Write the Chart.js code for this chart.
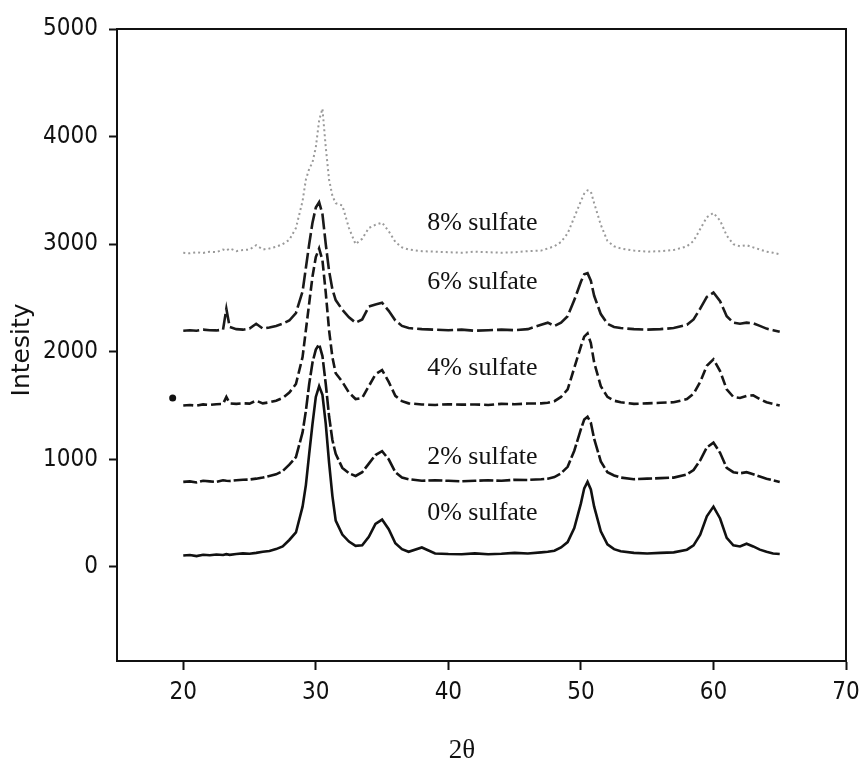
<!DOCTYPE html>
<html>
<head>
<meta charset="utf-8">
<script src="https://cdn.jsdelivr.net/npm/chart.js@4.4.1/dist/chart.umd.min.js"></script>
<style>
html,body{margin:0;padding:0;background:#fff;}
#wrap{width:859px;height:765px;position:relative;}
</style>
</head>
<body>
<div id="wrap"><canvas id="c" width="859" height="765"></canvas></div>
<script>
// ---- data ----
const twoTheta = [20,20.5,21,21.5,22,22.5,23,23.25,23.5,24,
 24.5,25,25.5,26,26.5,27,27.5,28,28.5,29,
 29.25,29.5,29.75,30,30.25,30.5,30.75,31,31.25,31.5,
 32,32.5,33,33.5,34,34.5,35,35.5,36,36.5,
 37,38,39,40,41,42,43,44,45,46,
 47,47.5,48,48.5,49,49.5,50,50.25,50.5,50.75,
 51,51.5,52,52.5,53,54,55,56,57,58,
 58.5,59,59.5,60,60.5,61,61.5,62,62.5,63,
 63.5,64,64.5,65];

const sulfate0 = [105,110,100,112,108,115,110,118,112,120,
 125,122,130,140,148,165,190,250,320,560,
 760,1050,1330,1580,1680,1600,1330,970,660,430,
 300,235,195,200,280,400,440,350,220,165,
 140,180,125,120,118,125,118,122,130,125,
 135,140,150,180,230,360,590,730,790,720,
 560,330,210,165,145,130,125,130,135,160,
 200,300,470,560,450,270,200,190,215,190,
 160,140,125,120];

const sulfate2 = [790,795,785,800,795,790,805,800,798,805,
 810,812,820,830,845,860,890,950,1020,1250,
 1450,1700,1900,2020,2070,1960,1700,1400,1180,1050,
 920,870,845,880,960,1040,1075,1000,880,830,
 815,800,805,800,795,800,805,800,810,808,
 815,820,835,870,930,1080,1280,1370,1395,1340,
 1190,980,880,850,830,815,820,825,830,860,
 900,990,1110,1155,1060,920,880,870,880,860,
 840,820,805,790];

const sulfate4 = [1500,1505,1498,1510,1505,1512,1515,1580,1520,1515,
 1520,1518,1545,1520,1530,1545,1570,1620,1700,1950,
 2200,2450,2700,2880,2960,2850,2550,2200,1950,1800,
 1720,1620,1560,1570,1680,1790,1830,1720,1590,1540,
 1520,1510,1505,1512,1508,1510,1505,1515,1512,1518,
 1520,1525,1540,1580,1650,1850,2050,2140,2170,2080,
 1900,1680,1580,1545,1530,1515,1520,1525,1530,1560,
 1610,1720,1870,1930,1820,1650,1580,1570,1590,1595,
 1560,1530,1515,1500];

const sulfate6 = [2195,2200,2195,2205,2200,2198,2205,2400,2230,2210,
 2205,2215,2260,2215,2225,2240,2260,2290,2360,2560,
 2780,3000,3200,3340,3390,3280,3000,2750,2580,2480,
 2390,2320,2270,2300,2420,2440,2455,2380,2290,2240,
 2220,2210,2205,2200,2205,2195,2200,2205,2200,2210,
 2250,2270,2240,2270,2330,2480,2650,2720,2730,2660,
 2520,2350,2260,2230,2220,2210,2205,2210,2220,2250,
 2300,2400,2510,2550,2470,2330,2270,2260,2270,2265,
 2240,2215,2200,2185];

const sulfate8 = [2920,2915,2925,2918,2930,2925,2950,2940,2960,2935,
 2945,2950,2990,2950,2960,2975,3000,3040,3150,3400,
 3600,3700,3760,3900,4150,4260,3900,3600,3450,3380,
 3360,3150,3000,3050,3150,3180,3200,3120,3020,2970,
 2950,2935,2930,2925,2920,2930,2925,2920,2925,2935,
 2940,2960,2980,3020,3100,3250,3400,3470,3500,3490,
 3380,3180,3030,2980,2960,2940,2930,2935,2945,2980,
 3030,3140,3250,3290,3220,3080,3000,2980,2990,2970,
 2950,2930,2920,2905];

const seriesNames = ['0% sulfate','2% sulfate','4% sulfate','6% sulfate','8% sulfate'];
const labelTheta = 38.4;                       // where the in-plot series labels start (2θ)
const labelIntensity = [502, 1022, 1849, 2649, 3197];
const strayTheta = [19.2];
const strayIntensity = [1570];
const xTicks = [20,30,40,50,60,70];
const yTicks = [0,1000,2000,3000,4000,5000];
const xTitle = '2θ';
const yTitle = 'Intesity';

// ---- build ----
const seriesValues = [sulfate0, sulfate2, sulfate4, sulfate6, sulfate8];
const styles = [
  {color:'#111', dash:[], width:2.6},
  {color:'#141414', dash:[14,3], width:2.6},
  {color:'#161616', dash:[10,4], width:2.6},
  {color:'#1a1a1a', dash:[16,4], width:2.6},
  {color:'#9a9a9a', dash:[2,3], width:2}
];
const datasets = seriesValues.map((vals, i) => ({
  label: seriesNames[i],
  data: twoTheta.map((t, k) => ({x: t, y: vals[k]})),
  borderColor: styles[i].color,
  borderDash: styles[i].dash,
  borderWidth: styles[i].width,
  pointRadius: 0,
  tension: 0,
  fill: false
}));
datasets.push({
  label: 'stray',
  data: strayTheta.map((t, k) => ({x: t, y: strayIntensity[k]})),
  showLine: false,
  pointRadius: 3.5,
  pointBackgroundColor: '#111',
  pointBorderWidth: 0
});

const tickFont = {family: "'Liberation Sans Narrow','DejaVu Sans Condensed',sans-serif", size: 24};

const decor = {
  id: 'decor',
  afterDraw(chart) {
    const {ctx, chartArea: a, scales} = chart;
    ctx.save();
    ctx.strokeStyle = '#111';
    ctx.lineWidth = 2;
    ctx.beginPath();
    ctx.moveTo(a.left, a.top);
    ctx.lineTo(a.right, a.top);
    ctx.lineTo(a.right, a.bottom);
    ctx.stroke();
    ctx.fillStyle = '#111';
    ctx.font = "26px 'Liberation Serif','Times New Roman',serif";
    ctx.textAlign = 'left';
    ctx.textBaseline = 'middle';
    const lx = scales.x.getPixelForValue(labelTheta);
    seriesNames.forEach((n, i) => {
      ctx.fillText(n, lx, scales.y.getPixelForValue(labelIntensity[i]));
    });
    ctx.textAlign = 'center';
    ctx.font = "27px 'Liberation Serif','Times New Roman',serif";
    ctx.fillText(xTitle, 462, 751);
    ctx.font = "25px 'DejaVu Sans',sans-serif";
    ctx.translate(22, 350);
    ctx.rotate(-Math.PI / 2);
    ctx.fillText(yTitle, 0, 0);
    ctx.restore();
  }
};

new Chart(document.getElementById('c'), {
  type: 'line',
  data: {datasets},
  options: {
    responsive: false,
    animation: false,
    layout: {padding: {top: 29, right: 13, left: 0, bottom: 0}},
    plugins: {legend: {display: false}, tooltip: {enabled: false}},
    scales: {
      x: {
        type: 'linear', min: 15, max: 70,
        afterBuildTicks: s => { s.ticks = xTicks.map(v => ({value: v})); },
        afterFit: s => { s.height = 104; s.paddingLeft = 0; s.paddingRight = 0; },
        ticks: {font: tickFont, color: '#111', padding: 8, maxRotation: 0, autoSkip: false,
                callback: v => String(v)},
        grid: {drawOnChartArea: false, drawTicks: true, tickLength: 9, tickWidth: 2, tickColor: '#111'},
        border: {color: '#111', width: 2}
      },
      y: {
        type: 'linear', min: -875, max: 5000,
        afterBuildTicks: s => { s.ticks = yTicks.map(v => ({value: v})); },
        afterFit: s => { s.width = 117; s.paddingTop = 0; s.paddingBottom = 0; },
        ticks: {font: tickFont, color: '#111', padding: 11, callback: v => String(v)},
        grid: {drawOnChartArea: false, drawTicks: true, tickLength: 8, tickWidth: 2, tickColor: '#111'},
        border: {color: '#111', width: 2}
      }
    }
  },
  plugins: [decor]
});
</script>
</body>
</html>
